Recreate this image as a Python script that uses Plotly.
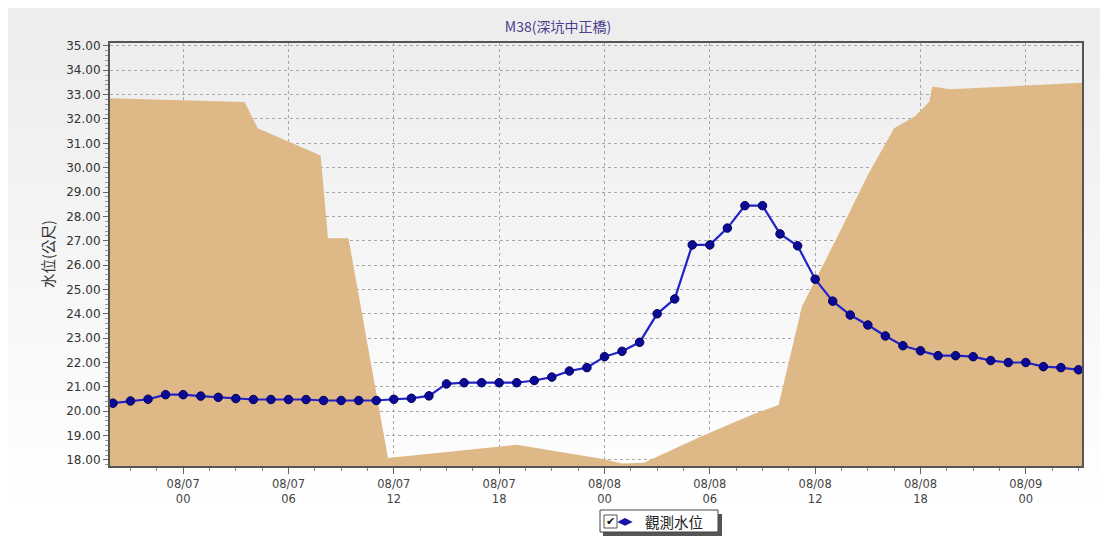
import pandas as pd
import plotly.graph_objects as go

# ---------------- data ----------------
TITLE = "M38(深坑中正橋)"
Y_TITLE = "水位(公尺)"
SERIES_NAME = "觀測水位"

# hourly observed water level, 2015-08-06 20:00 .. 2015-08-09 03:00
level_times = pd.date_range("2015-08-06 20:00", periods=56, freq="h")
water_level = [
    20.33, 20.42, 20.49, 20.68,                                   # 08/06 20-23
    20.68, 20.62, 20.57, 20.52, 20.48, 20.48, 20.48, 20.48,       # 08/07 00-07
    20.44, 20.44, 20.44, 20.44, 20.49, 20.53, 20.63, 21.12,       # 08/07 08-15
    21.17, 21.17, 21.17, 21.17, 21.26, 21.40, 21.65, 21.79,       # 08/07 16-23
    22.24, 22.46, 22.83, 24.00, 24.61, 26.83, 26.83, 27.52,       # 08/08 00-07
    28.44, 28.44, 27.28, 26.79, 25.42, 24.52, 23.95, 23.54,       # 08/08 08-15
    23.09, 22.69, 22.48, 22.28, 22.28, 22.24, 22.08, 22.00,       # 08/08 16-23
    22.00, 21.83, 21.79, 21.70,                                   # 08/09 00-03
]

# background area series (tan)
area_times = [
    "2015-08-06 19:40", "2015-08-07 03:30", "2015-08-07 04:15", "2015-08-07 06:15",
    "2015-08-07 07:50", "2015-08-07 08:15", "2015-08-07 09:25", "2015-08-07 11:40",
    "2015-08-07 19:00", "2015-08-08 00:00", "2015-08-08 01:00", "2015-08-08 02:15",
    "2015-08-08 05:30", "2015-08-08 08:30", "2015-08-08 09:55", "2015-08-08 11:15",
    "2015-08-08 13:25", "2015-08-08 15:00", "2015-08-08 16:30", "2015-08-08 17:40",
    "2015-08-08 18:30", "2015-08-08 18:40", "2015-08-08 19:40", "2015-08-09 03:15",
]
area_values = [
    32.85, 32.70, 31.62, 31.00,
    30.50, 27.10, 27.10, 18.08,
    18.62, 18.03, 17.85, 17.88,
    18.96, 19.89, 20.26, 24.30,
    27.38, 29.70, 31.62, 32.10,
    32.71, 33.33, 33.22, 33.49,
]

tick_vals = ["2015-08-07 00:00", "2015-08-07 06:00", "2015-08-07 12:00",
             "2015-08-07 18:00", "2015-08-08 00:00", "2015-08-08 06:00",
             "2015-08-08 12:00", "2015-08-08 18:00", "2015-08-09 00:00"]
tick_text = ["08/07<br>00", "08/07<br>06", "08/07<br>12", "08/07<br>18",
             "08/08<br>00", "08/08<br>06", "08/08<br>12", "08/08<br>18",
             "08/09<br>00"]

# ---------------- layout geometry ----------------
# the page body has an 8px default margin, so the figure is offset by 8px
OFF = 8
W, H = 1108 - OFF, 539 - OFF
L, R, T, B = 110 - OFF, 26, 43 - OFF, 73
PW, PH = W - L - R, H - T - B


def px(x):
    """reference screen x -> paper x"""
    return (x - OFF - L) / PW


def py(y):
    """reference screen y -> paper y"""
    return (H - B - (y - OFF)) / PH


fig = go.Figure()

fig.add_trace(go.Scatter(
    x=area_times, y=area_values, mode="lines", fill="tozeroy",
    fillcolor="#DEB887", line=dict(width=0, color="#DEB887"),
    showlegend=False, hoverinfo="skip"))

fig.add_trace(go.Scatter(
    x=level_times, y=water_level, mode="lines+markers", name=SERIES_NAME,
    line=dict(color="#2222C8", width=2.2),
    marker=dict(color="#0A0A96", size=8.5, line=dict(color="#00005A", width=1)),
    showlegend=False))

# legend entry
fig.add_trace(go.Scatter(
    x=[None], y=[None], mode="markers", name=SERIES_NAME,
    marker=dict(symbol="diamond-wide", color="#1515A8", size=11),
    showlegend=True))

shapes = []
# soft vertical background gradient
n = 40
for i in range(n):
    y0 = OFF + (539 - OFF) * i / n
    y1 = OFF + (539 - OFF) * (i + 1) / n
    c = int(237 + (255 - 237) * min(1.0, i / (n * 0.92)))
    shapes.append(dict(type="rect", xref="paper", yref="paper", layer="below",
                       x0=px(OFF), x1=px(1108), y0=py(y0), y1=py(y1 + 0.5),
                       fillcolor=f"rgb({c},{c},{c})", line=dict(width=0)))
# legend box decoration
shapes.append(dict(type="rect", xref="paper", yref="paper", layer="above",
                   x0=px(603), x1=px(722), y0=py(514), y1=py(536),
                   fillcolor="#555555", line=dict(width=0)))
shapes.append(dict(type="rect", xref="paper", yref="paper", layer="above",
                   x0=px(600), x1=px(718), y0=py(510), y1=py(532),
                   fillcolor="white", line=dict(color="#444444", width=1)))
shapes.append(dict(type="rect", xref="paper", yref="paper", layer="above",
                   x0=px(604), x1=px(617), y0=py(515), y1=py(528),
                   fillcolor="white", line=dict(color="#555555", width=1)))

annotations = [
    dict(text=Y_TITLE, xref="paper", yref="paper", x=px(47), y=py(254),
         textangle=-90, showarrow=False, xanchor="center", yanchor="middle",
         font=dict(family="Noto Sans CJK TC", size=14.5, color="#333333")),
    dict(text="✔", xref="paper", yref="paper", x=px(610.5), y=py(521.5),
         showarrow=False, xanchor="center", yanchor="middle",
         font=dict(family="DejaVu Sans", size=11, color="#111111")),
]

fig.update_layout(
    width=W, height=H,
    margin=dict(l=L, r=R, t=T, b=B, autoexpand=False),
    paper_bgcolor="white",
    plot_bgcolor="rgba(0,0,0,0)",
    title=dict(text=TITLE, x=(558 - OFF) / W, xref="container", xanchor="center",
               y=1 - (27 - OFF) / H, yref="container", yanchor="middle",
               font=dict(family="Noto Sans CJK TC", size=14, color="#4B3D8F")),
    showlegend=True,
    legend=dict(x=px(605), xanchor="left", y=py(506), yanchor="top",
                bgcolor="rgba(0,0,0,0)", borderwidth=0, itemwidth=30,
                font=dict(family="Noto Sans CJK TC", size=14.5, color="#222222")),
    shapes=shapes,
    annotations=annotations,
    hovermode=False,
)

fig.update_xaxes(
    type="date",
    range=["2015-08-06 19:50", "2015-08-09 03:12"],
    tickmode="array", tickvals=tick_vals, ticktext=tick_text,
    tickfont=dict(family="DejaVu Sans", size=11.5, color="#444444"),
    showline=True, linecolor="#555555", linewidth=2, mirror=True,
    ticks="outside", ticklen=6, tickcolor="#666666",
    showgrid=True, gridcolor="#A8A8A8", griddash="dot", gridwidth=1,
    minor=dict(tickmode="linear", tick0="2015-08-07 00:00", dtick=5400000,
               ticks="outside", ticklen=3, tickcolor="#888888", showgrid=False),
    zeroline=False,
)

fig.update_yaxes(
    range=[17.75, 35.12],
    tickmode="linear", tick0=0, dtick=1, tickformat=".2f",
    tickfont=dict(family="DejaVu Sans", size=12, color="#333333"),
    showline=True, linecolor="#555555", linewidth=2, mirror=True,
    ticks="outside", ticklen=5, tickcolor="#666666",
    showgrid=True, gridcolor="#A8A8A8", griddash="dot", gridwidth=1,
    minor=dict(tickmode="linear", tick0=0, dtick=0.2, ticks="outside",
               ticklen=3, tickcolor="#999999", showgrid=False),
    zeroline=False,
)

fig.write_html("out.html")
